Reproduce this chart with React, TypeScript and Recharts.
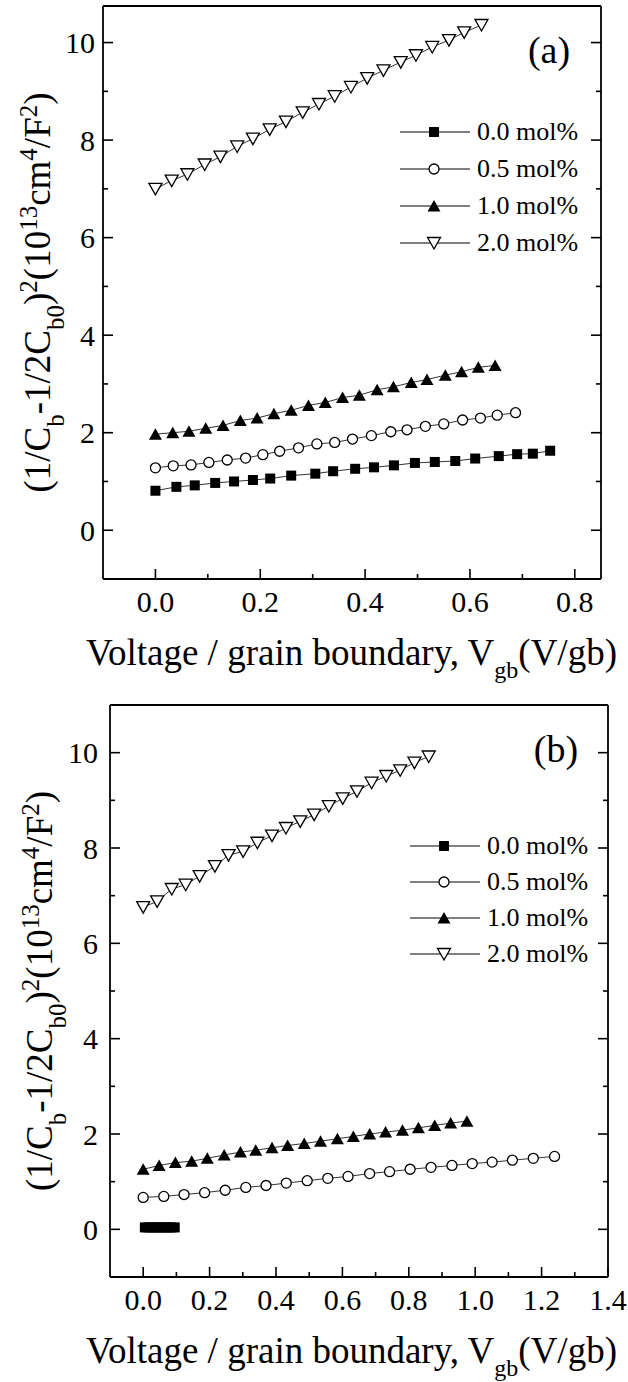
import React from "react";
import { ScatterChart, Scatter, XAxis, YAxis, Legend, Label } from "recharts";

const FONT = '"Liberation Serif", "Times New Roman", Times, serif';

// ---------------------------------------------------------------------------
// Panel (a) data
// ---------------------------------------------------------------------------

const A_X_00 = [0, 0.04, 0.075, 0.114, 0.15, 0.186, 0.219, 0.259, 0.305, 0.339, 0.381, 0.417, 0.455, 0.495, 0.533, 0.572, 0.61, 0.655, 0.69, 0.72, 0.753];
const A_Y_00 = [0.81, 0.89, 0.92, 0.97, 1.0, 1.03, 1.06, 1.12, 1.16, 1.21, 1.26, 1.29, 1.33, 1.38, 1.4, 1.42, 1.47, 1.52, 1.56, 1.57, 1.63];

const A_X_05 = [0, 0.034, 0.068, 0.102, 0.137, 0.172, 0.205, 0.237, 0.273, 0.308, 0.342, 0.376, 0.412, 0.449, 0.48, 0.515, 0.55, 0.586, 0.62, 0.652, 0.687];
const A_Y_05 = [1.28, 1.32, 1.34, 1.39, 1.44, 1.48, 1.55, 1.62, 1.69, 1.77, 1.8, 1.87, 1.94, 2.02, 2.06, 2.13, 2.18, 2.26, 2.3, 2.36, 2.41];

const A_X_10 = [0, 0.033, 0.064, 0.096, 0.129, 0.162, 0.194, 0.226, 0.259, 0.292, 0.324, 0.357, 0.389, 0.423, 0.454, 0.488, 0.518, 0.553, 0.584, 0.616, 0.648];
const A_Y_10 = [1.97, 2.0, 2.03, 2.09, 2.15, 2.25, 2.3, 2.39, 2.46, 2.56, 2.62, 2.72, 2.77, 2.88, 2.94, 3.03, 3.09, 3.18, 3.25, 3.34, 3.38];

const A_X_20 = [0, 0.031, 0.061, 0.094, 0.124, 0.156, 0.186, 0.218, 0.249, 0.281, 0.312, 0.342, 0.373, 0.404, 0.435, 0.468, 0.497, 0.528, 0.56, 0.589, 0.622];
const A_Y_20 = [7.0, 7.17, 7.3, 7.5, 7.66, 7.87, 8.03, 8.22, 8.38, 8.57, 8.74, 8.9, 9.09, 9.27, 9.43, 9.6, 9.74, 9.91, 10.05, 10.21, 10.36];

const A_X_DOMAIN = [-0.1, 0.85];
const A_Y_DOMAIN = [-1, 10.75];
const A_X_TICKS = [0, 0.1, 0.2, 0.3, 0.4, 0.5, 0.6, 0.7, 0.8];
const A_Y_TICKS = [0, 1, 2, 3, 4, 5, 6, 7, 8, 9, 10];

// ---------------------------------------------------------------------------
// Panel (b) data
// ---------------------------------------------------------------------------

const B_X_00 = [0.005, 0.015, 0.025, 0.035, 0.045, 0.055, 0.065, 0.075, 0.085, 0.095];
const B_Y_00 = [0.04, 0.04, 0.04, 0.04, 0.04, 0.04, 0.04, 0.04, 0.04, 0.04];

const B_X_05 = [0, 0.062, 0.123, 0.185, 0.247, 0.309, 0.37, 0.431, 0.494, 0.556, 0.617, 0.682, 0.742, 0.804, 0.867, 0.93, 0.991, 1.051, 1.112, 1.175, 1.239];
const B_Y_05 = [0.67, 0.69, 0.73, 0.77, 0.82, 0.88, 0.92, 0.97, 1.02, 1.07, 1.11, 1.17, 1.21, 1.26, 1.3, 1.34, 1.38, 1.41, 1.45, 1.49, 1.53];

const B_X_10 = [0, 0.048, 0.097, 0.146, 0.193, 0.244, 0.293, 0.339, 0.388, 0.435, 0.485, 0.534, 0.585, 0.633, 0.682, 0.73, 0.781, 0.829, 0.878, 0.926, 0.975];
const B_Y_10 = [1.26, 1.34, 1.4, 1.43, 1.49, 1.56, 1.62, 1.66, 1.71, 1.76, 1.8, 1.85, 1.9, 1.95, 2.0, 2.04, 2.08, 2.13, 2.18, 2.23, 2.27];

const B_X_20 = [0, 0.042, 0.086, 0.128, 0.17, 0.216, 0.257, 0.301, 0.344, 0.388, 0.43, 0.473, 0.515, 0.559, 0.601, 0.644, 0.688, 0.732, 0.774, 0.817, 0.86];
const B_Y_20 = [6.76, 6.88, 7.14, 7.23, 7.41, 7.62, 7.85, 7.93, 8.11, 8.26, 8.42, 8.56, 8.7, 8.88, 9.04, 9.19, 9.37, 9.51, 9.63, 9.79, 9.92];

const B_X_DOMAIN = [-0.1, 1.4];
const B_Y_DOMAIN = [-1, 11];
const B_X_TICKS = [0, 0.1, 0.2, 0.3, 0.4, 0.5, 0.6, 0.7, 0.8, 0.9, 1.0, 1.1, 1.2, 1.3, 1.4];
const B_Y_TICKS = [0, 1, 2, 3, 4, 5, 6, 7, 8, 9, 10];

const SERIES_NAMES = ["0.0 mol%", "0.5 mol%", "1.0 mol%", "2.0 mol%"];
const MARKERS = ["square", "circle", "triangle", "invTriangle"];

function zip(xs: number[], ys: number[]) {
  return xs.map((x, i) => ({ x, y: ys[i] }));
}

// ---------------------------------------------------------------------------
// Markers
// ---------------------------------------------------------------------------

function Mark({ kind, cx, cy }: { kind: string; cx: number; cy: number }) {
  if (kind === "square") {
    return <rect x={cx - 5} y={cy - 5} width={10} height={10} fill="#000" />;
  }
  if (kind === "circle") {
    return <circle cx={cx} cy={cy} r={5} fill="#fff" stroke="#000" strokeWidth={1.3} />;
  }
  if (kind === "triangle") {
    return <polygon points={`${cx},${cy - 6} ${cx + 6.5},${cy + 5.5} ${cx - 6.5},${cy + 5.5}`} fill="#000" />;
  }
  return (
    <polygon
      points={`${cx - 6.5},${cy - 5.5} ${cx + 6.5},${cy - 5.5} ${cx},${cy + 6}`}
      fill="#fff"
      stroke="#000"
      strokeWidth={1.3}
    />
  );
}

// ---------------------------------------------------------------------------
// Ticks (inward, majors labelled)
// ---------------------------------------------------------------------------

const TICK_FONT = 30;
const xMajor = (v: number) => Math.round(v * 10) % 2 === 0;
const yMajor = (v: number) => Math.round(v) % 2 === 0;

function leftTick(gap: number) {
  return (p: any) => {
    const v = p.payload.value;
    const major = yMajor(v);
    return (
      <g>
        <line x1={p.x} x2={p.x + (major ? 10 : 5)} y1={p.y} y2={p.y} stroke="#000" strokeWidth={1.6} />
        {major && (
          <text x={p.x - gap} y={p.y} dy="0.35em" textAnchor="end" fontFamily={FONT} fontSize={TICK_FONT} fill="#000">
            {v}
          </text>
        )}
      </g>
    );
  };
}

const rightTick = (p: any) => {
  const major = yMajor(p.payload.value);
  return <line x1={p.x} x2={p.x - (major ? 10 : 5)} y1={p.y} y2={p.y} stroke="#000" strokeWidth={1.6} />;
};

const bottomTick = (p: any) => {
  const v = p.payload.value;
  const major = xMajor(v);
  return (
    <g>
      <line x1={p.x} x2={p.x} y1={p.y} y2={p.y - (major ? 10 : 5)} stroke="#000" strokeWidth={1.6} />
      {major && (
        <text x={p.x} y={p.y + 33} textAnchor="middle" fontFamily={FONT} fontSize={TICK_FONT} fill="#000">
          {v.toFixed(1)}
        </text>
      )}
    </g>
  );
};

const topTick = (p: any) => {
  const major = xMajor(p.payload.value);
  return <line x1={p.x} x2={p.x} y1={p.y} y2={p.y + (major ? 10 : 5)} stroke="#000" strokeWidth={1.6} />;
};

// ---------------------------------------------------------------------------
// Titles
// ---------------------------------------------------------------------------

function yTitle(bx: number) {
  return ({ viewBox }: any) => {
    const cy = viewBox.y + viewBox.height / 2;
    return (
      <text transform={`rotate(-90 ${bx} ${cy})`} x={bx} y={cy} textAnchor="middle" fontFamily={FONT} fontSize={37} fill="#000">
        {"(1/C"}
        <tspan baselineShift="sub" fontSize={25}>b</tspan>
        {"-1/2C"}
        <tspan baselineShift="sub" fontSize={25}>b0</tspan>
        {")"}
        <tspan baselineShift="super" fontSize={25}>2</tspan>
        {"(10"}
        <tspan baselineShift="super" fontSize={25}>13</tspan>
        {"cm"}
        <tspan baselineShift="super" fontSize={25}>4</tspan>
        {"/F"}
        <tspan baselineShift="super" fontSize={25}>2</tspan>
        {")"}
      </text>
    );
  };
}

function xTitle(left: number) {
  return ({ viewBox }: any) => (
    <text x={left} y={viewBox.y + 86} fontFamily={FONT} fontSize={37} fill="#000">
      {"Voltage / grain boundary, V"}
      <tspan baselineShift="sub" fontSize={24}>gb</tspan>
      {"(V/gb)"}
    </text>
  );
}

function panelTag(tag: string) {
  return ({ viewBox }: any) => (
    <text x={viewBox.x - 52} y={viewBox.y + 57} textAnchor="middle" fontFamily={FONT} fontSize={38} fill="#000">
      {tag}
    </text>
  );
}

function LegendBox({ rowH }: { rowH: number }) {
  return (
    <div style={{ fontFamily: FONT, fontSize: 26, color: "#000" }}>
      {SERIES_NAMES.map((name, i) => (
        <div key={name} style={{ height: rowH, display: "flex", alignItems: "center" }}>
          <svg width={70} height={20} style={{ display: "block" }}>
            <line x1={0} x2={70} y1={10} y2={10} stroke="#000" strokeWidth={1} />
            <Mark kind={MARKERS[i]} cx={34} cy={10} />
          </svg>
          <span style={{ marginLeft: 7, lineHeight: 1 }}>{name}</span>
        </div>
      ))}
    </div>
  );
}

// ---------------------------------------------------------------------------
// Panel
// ---------------------------------------------------------------------------

interface PanelProps {
  top: number;
  height: number;
  margin: { top: number; right: number; bottom: number; left: number };
  series: { x: number; y: number }[][];
  xDomain: number[];
  yDomain: number[];
  xTicks: number[];
  yTicks: number[];
  tickGap: number;
  yTitleX: number;
  xTitleLeft: number;
  tag: string;
  legendLeft: number;
  legendTop: number;
  legendRow: number;
}

const FRAME = { stroke: "#000", strokeWidth: 1.8 };

function Panel(p: PanelProps) {
  return (
    <div style={{ position: "absolute", left: 0, top: p.top }}>
      <ScatterChart width={628} height={p.height} margin={p.margin}>
        <XAxis
          type="number"
          dataKey="x"
          domain={p.xDomain}
          ticks={p.xTicks}
          interval={0}
          height={1}
          tickSize={0}
          tickMargin={0}
          tick={bottomTick}
          tickLine={false}
          axisLine={FRAME}
          allowDataOverflow
        >
          <Label content={xTitle(p.xTitleLeft)} />
        </XAxis>
        <XAxis
          xAxisId="top"
          orientation="top"
          type="number"
          domain={p.xDomain}
          ticks={p.xTicks}
          interval={0}
          height={1}
          tickSize={0}
          tickMargin={0}
          tick={topTick}
          tickLine={false}
          axisLine={FRAME}
          allowDataOverflow
        />
        <YAxis
          type="number"
          dataKey="y"
          domain={p.yDomain}
          ticks={p.yTicks}
          interval={0}
          width={1}
          tickSize={0}
          tickMargin={0}
          tick={leftTick(p.tickGap)}
          tickLine={false}
          axisLine={FRAME}
          allowDataOverflow
        >
          <Label content={yTitle(p.yTitleX)} />
        </YAxis>
        <YAxis
          yAxisId="right"
          orientation="right"
          type="number"
          domain={p.yDomain}
          ticks={p.yTicks}
          interval={0}
          width={1}
          tickSize={0}
          tickMargin={0}
          tick={rightTick}
          tickLine={false}
          axisLine={FRAME}
          allowDataOverflow
        >
          <Label content={panelTag(p.tag)} />
        </YAxis>
        {p.series.map((data, i) => (
          <Scatter
            key={SERIES_NAMES[i]}
            name={SERIES_NAMES[i]}
            data={data}
            line={{ stroke: "#000", strokeWidth: 0.8 }}
            lineJointType="linear"
            shape={(s: any) => <Mark kind={MARKERS[i]} cx={s.cx} cy={s.cy} />}
            isAnimationActive={false}
          />
        ))}
        <Legend
          layout="horizontal"
          verticalAlign="middle"
          align="center"
          wrapperStyle={{ left: p.legendLeft, top: p.legendTop, width: 230 }}
          content={() => <LegendBox rowH={p.legendRow} />}
        />
      </ScatterChart>
    </div>
  );
}

export default function App() {
  return (
    <div style={{ position: "absolute", left: 0, top: 0, width: 628, height: 1382, background: "#fff" }}>
      <Panel
        top={0}
        height={690}
        margin={{ top: 5, right: 26, bottom: 110, left: 102 }}
        series={[zip(A_X_00, A_Y_00), zip(A_X_05, A_Y_05), zip(A_X_10, A_Y_10), zip(A_X_20, A_Y_20)]}
        xDomain={A_X_DOMAIN}
        yDomain={A_Y_DOMAIN}
        xTicks={A_X_TICKS}
        yTicks={A_Y_TICKS}
        tickGap={8}
        yTitleX={50}
        xTitleLeft={86}
        tag="(a)"
        legendLeft={400}
        legendTop={113}
        legendRow={37}
      />
      <Panel
        top={690}
        height={692}
        margin={{ top: 14, right: 19, bottom: 104, left: 109 }}
        series={[zip(B_X_00, B_Y_00), zip(B_X_05, B_Y_05), zip(B_X_10, B_Y_10), zip(B_X_20, B_Y_20)]}
        xDomain={B_X_DOMAIN}
        yDomain={B_Y_DOMAIN}
        xTicks={B_X_TICKS}
        yTicks={B_Y_TICKS}
        tickGap={12}
        yTitleX={52}
        xTitleLeft={86}
        tag="(b)"
        legendLeft={410}
        legendTop={138}
        legendRow={36}
      />
    </div>
  );
}
